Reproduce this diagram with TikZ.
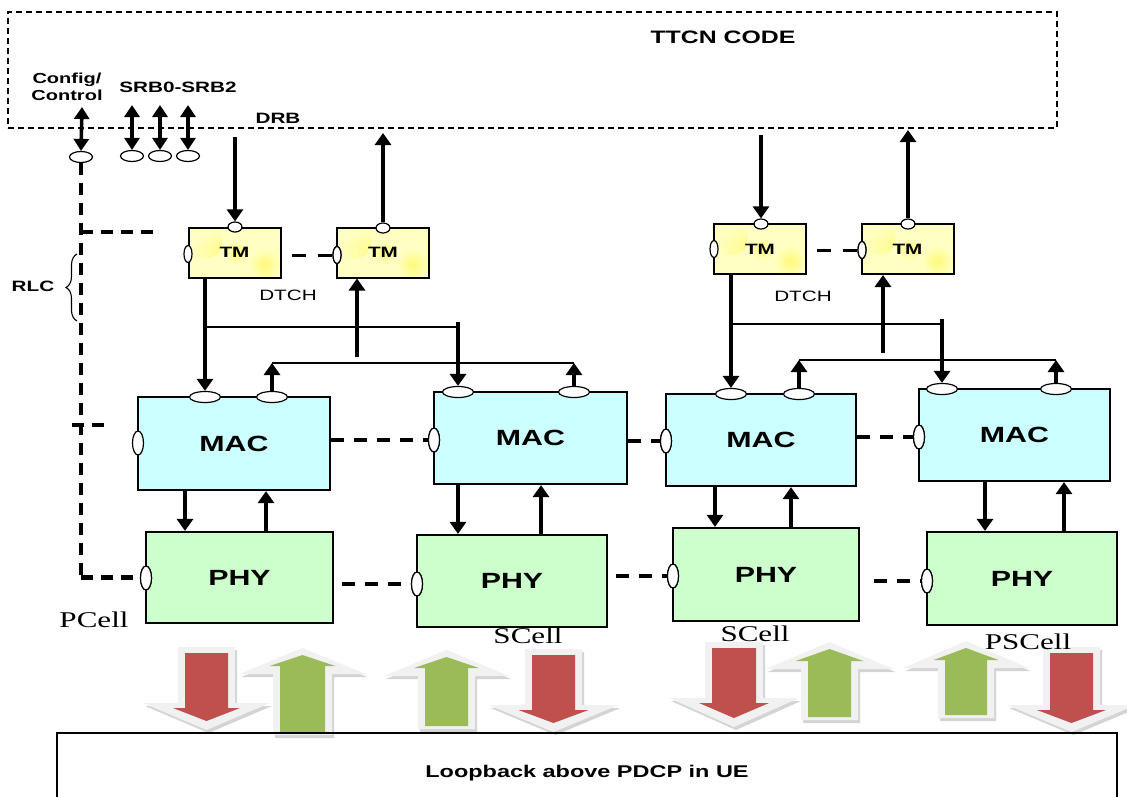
\documentclass[tikz,border=0pt]{standalone}
\usepackage{fontspec}
\setmainfont{Liberation Sans}
\newfontfamily\hsans{Liberation Sans}[FakeStretch=1.38]
\newfontfamily\hserif{Liberation Serif}[FakeStretch=1.38]
\usetikzlibrary{arrows.meta,decorations.pathreplacing,shapes.geometric}
\definecolor{tmfill}{RGB}{255,255,196}
\definecolor{tmspot}{RGB}{255,250,120}
\definecolor{macfill}{RGB}{204,255,255}
\definecolor{phyfill}{RGB}{204,255,204}
\definecolor{redarr}{RGB}{192,80,77}
\definecolor{greenarr}{RGB}{155,187,89}
\definecolor{glowc}{RGB}{241,241,241}
\definecolor{shadowc}{RGB}{170,170,170}
\newcommand{\blockdown}[6]{%
  \path[fill=shadowc, opacity=.5, shift={(2,3)}] (#1-#5-7,#2-6) -- (#1+#5+7,#2-6) -- (#1+#5+7,#3-5) -- (#1+#6+30,#3-5) -- (#1,#4+9) -- (#1-#6-30,#3-5) -- (#1-#5-7,#3-5) -- cycle;
  \path[fill=glowc] (#1-#5-7,#2-6) -- (#1+#5+7,#2-6) -- (#1+#5+7,#3-5) -- (#1+#6+30,#3-5) -- (#1,#4+9) -- (#1-#6-30,#3-5) -- (#1-#5-7,#3-5) -- cycle;
  \path[fill=redarr] (#1-#5,#2) -- (#1+#5,#2) -- (#1+#5,#3) -- (#1+#6,#3) -- (#1,#4) -- (#1-#6,#3) -- (#1-#5,#3) -- cycle;
}
\newcommand{\blockup}[6]{%
  \path[fill=shadowc, opacity=.5, shift={(2,3)}] (#1-#5-7,#2+3) -- (#1+#5+7,#2+3) -- (#1+#5+7,#3+8) -- (#1+#6+30,#3+8) -- (#1,#4-7) -- (#1-#6-30,#3+8) -- (#1-#5-7,#3+8) -- cycle;
  \path[fill=glowc] (#1-#5-7,#2+3) -- (#1+#5+7,#2+3) -- (#1+#5+7,#3+8) -- (#1+#6+30,#3+8) -- (#1,#4-7) -- (#1-#6-30,#3+8) -- (#1-#5-7,#3+8) -- cycle;
  \path[fill=greenarr] (#1-#5,#2) -- (#1+#5,#2) -- (#1+#5,#3) -- (#1+#6,#3) -- (#1,#4) -- (#1-#6,#3) -- (#1-#5,#3) -- cycle;
}
\tikzset{
  box/.style={draw=black, line width=2.2pt, inner sep=0pt, font=\hsans\bfseries\fontsize{22}{24}\selectfont},
  tmbox/.style={box, line width=2pt, fill=tmfill, minimum width=92pt, minimum height=50pt,
    font=\hsans\bfseries\fontsize{15}{17}\selectfont,
    path picture={
      \shade[inner color=tmspot, outer color=tmfill] ([xshift=-28pt,yshift=10pt]path picture bounding box.center) circle (16pt);
      \shade[inner color=tmspot, outer color=tmfill] ([xshift=30pt,yshift=-12pt]path picture bounding box.center) circle (16pt);
      \shade[inner color=tmspot, outer color=tmfill] ([xshift=2pt,yshift=0pt]path picture bounding box.center) circle (12pt);
    }},
  macbox/.style={box, fill=macfill},
  phybox/.style={box, fill=phyfill},
  porth/.style={ellipse, draw=black, fill=white, line width=1.2pt, inner sep=0pt, minimum width=31pt, minimum height=11pt},
  portv/.style={ellipse, draw=black, fill=white, line width=1.2pt, inner sep=0pt, minimum width=11pt, minimum height=24pt},
  tmporth/.style={ellipse, draw=black, fill=white, line width=1.2pt, inner sep=0pt, minimum width=14pt, minimum height=10pt},
  tmportv/.style={ellipse, draw=black, fill=white, line width=1.2pt, inner sep=0pt, minimum width=8pt, minimum height=17pt},
  cfgport/.style={ellipse, draw=black, fill=white, line width=1.2pt, inner sep=0pt, minimum width=23pt, minimum height=11pt},
  arr/.style={line width=4pt, -{Triangle[width=16pt,length=12pt]}},
  darr/.style={line width=3.6pt, {Triangle[width=15pt,length=12pt]}-{Triangle[width=15pt,length=12pt]}},
  ln/.style={line width=2.8pt},
  dsh/.style={line width=3.6pt, dash pattern=on 13pt off 10pt},
  tdsh/.style={line width=3pt, dash pattern=on 14pt off 12pt},
  cdsh/.style={line width=4.5pt, dash pattern=on 12pt off 8pt},
  lbl/.style={font=\hsans\bfseries\fontsize{15}{17}\selectfont, inner sep=0pt},
  cell/.style={font=\hserif\fontsize{22.5}{24}\selectfont, inner sep=0pt}
}
\begin{document}
\begin{tikzpicture}[x=1pt,y=-1pt]
\useasboundingbox (0,0) rectangle (1127,796);
\fill[white] (0,0) rectangle (1127,796);

% TTCN box
\node[draw=black, line width=1.2pt, dash pattern=on 6pt off 4pt, minimum width=1049pt, minimum height=116pt, inner sep=0pt] (ttcn) at (532.5,70) {};
\node[font=\hsans\bfseries\fontsize{18}{20}\selectfont, inner sep=0pt] (ttcnlbl) at (723,37) {TTCN CODE};
\node[lbl, align=center, font=\hsans\bfseries\fontsize{14.5}{17}\selectfont] (cfglbl) at (67,87) {Config/\\Control};
\node[lbl] (srblbl) at (178,87) {SRB0-SRB2};
\node[lbl] (drblbl) at (278,118) {DRB};

% block arrows
\blockdown{206.5}{653}{708}{721}{21.5}{33.5}
\blockup{302.5}{732}{666}{655}{22.5}{33}
\blockup{446.5}{726}{668}{657}{21.5}{32.5}
\blockdown{553.5}{655}{710}{723}{21.5}{35}
\blockdown{734}{648}{703}{718}{22}{35}
\blockup{829.5}{717}{661}{649}{21.5}{34}
\blockup{966}{715}{660}{648}{21}{32.5}
\blockdown{1071.5}{653}{710}{723}{21.5}{34.5}

% loopback
\node[draw=black, line width=1.6pt, minimum width=1060pt, minimum height=80pt, inner sep=0pt,
  font=\hsans\bfseries\fontsize{17}{19}\selectfont] (loop) at (587,773) {Loopback above PDCP in UE};

% TM boxes
\node[tmbox] (tm1) at (234.5,252.5) {TM};
\node[tmbox] (tm2) at (383,252.5) {TM};
\node[tmbox] (tm3) at (760,249) {TM};
\node[tmbox] (tm4) at (907.5,249) {TM};

% MAC boxes
\node[macbox, minimum width=192pt, minimum height=93pt] (mac1) at (234,443.5) {MAC};
\node[macbox, minimum width=193pt, minimum height=92pt] (mac2) at (530.5,438) {MAC};
\node[macbox, minimum width=190pt, minimum height=92pt] (mac3) at (761,440) {MAC};
\node[macbox, minimum width=191pt, minimum height=92pt] (mac4) at (1014.5,435) {MAC};

% PHY boxes
\node[phybox, minimum width=187pt, minimum height=91pt] (phy1) at (239.5,577.5) {PHY};
\node[phybox, minimum width=190pt, minimum height=92pt] (phy2) at (512,581) {PHY};
\node[phybox, minimum width=186pt, minimum height=93pt] (phy3) at (766,574.5) {PHY};
\node[phybox, minimum width=190pt, minimum height=93pt] (phy4) at (1022,578.5) {PHY};

% labels
\node[font=\hsans\fontsize{15}{17}\selectfont, inner sep=0pt] (dtch1) at (288,295) {DTCH};
\node[font=\hsans\fontsize{15}{17}\selectfont, inner sep=0pt] (dtch2) at (803,296) {DTCH};
\node[lbl] (rlc) at (33,286) {RLC};
\node[cell] (pcell) at (94,620) {PCell};
\node[cell] (scell1) at (528,636) {SCell};
\node[cell] (scell2) at (755,634) {SCell};
\node[cell] (pscell) at (1028,642) {PSCell};

% helper coordinates
\coordinate (cfgtop) at (82,107);
\coordinate (srbtop) at (0,105);
\coordinate (drbtop) at (0,137);
\coordinate (upt1) at (0,133);
\coordinate (dnt2) at (0,135);
\coordinate (upt2) at (0,130);
\coordinate (h1) at (0,327);
\coordinate (h1t) at (0,322);
\coordinate (h2) at (0,363);
\coordinate (upL) at (357,357);
\coordinate (h3) at (0,324);
\coordinate (h3t) at (0,319);
\coordinate (h4) at (0,360);
\coordinate (upR) at (883,353);
\coordinate (rlcbr) at (157,232);
\coordinate (tickA) at (72,425);
\coordinate (tickB) at (110,425);
\coordinate (d1) at (185,0);
\coordinate (u1) at (266,0);
\coordinate (d2) at (458,0);
\coordinate (u2) at (541,0);
\coordinate (d3) at (715,0);
\coordinate (u3) at (791,0);
\coordinate (d4) at (985,0);
\coordinate (u4) at (1064,0);

% dashed control line
\node[cfgport] (cfg) at (81,157) {};
\draw[cdsh] (cfg.south) -- (cfg.south |- phy1.west) coordinate (cfgcorner);
\draw[cdsh] (cfgcorner) -- ([xshift=-5pt]phy1.west);
\draw[cdsh] (cfg.south |- rlcbr) -- (rlcbr);
\draw[cdsh] (tickA) -- (tickB);
\draw[line width=1.1pt, decorate, decoration={brace, amplitude=11pt}] (77,321) -- (77,254);

% ports
\node[cfgport] (s1) at (132,156) {};
\node[cfgport] (s2) at (160,156) {};
\node[cfgport] (s3) at (188,156) {};
\node[tmporth] (t1t) at (235,227) {};
\node[tmportv] (t1l) at (188,254) {};
\node[tmporth] (t2t) at (383,228) {};
\node[tmportv] (t2l) at (337,255) {};
\node[tmporth] (t3t) at (761,224) {};
\node[tmportv] (t3l) at (714,249) {};
\node[tmporth] (t4t) at (908,224) {};
\node[tmportv] (t4l) at (862,250) {};
\node[porth] (m1a) at (205,397) {};
\node[porth] (m1b) at (272,397) {};
\node[portv] (m1l) at (138,443) {};
\node[porth] (m2a) at (458,392) {};
\node[porth] (m2b) at (574,392) {};
\node[portv] (m2l) at (434,440) {};
\node[porth] (m3a) at (731,394) {};
\node[porth] (m3b) at (799,394) {};
\node[portv] (m3l) at (666,441) {};
\node[porth] (m4a) at (942,389) {};
\node[porth] (m4b) at (1056,389) {};
\node[portv] (m4l) at (919,437) {};
\node[portv] (p1l) at (146,578) {};
\node[portv] (p2l) at (417,584) {};
\node[portv] (p3l) at (673,576) {};
\node[portv] (p4l) at (927,581) {};

% TTCN arrows
\draw[darr] (cfgtop) -- (cfg.north);
\draw[darr] (srbtop -| s1) -- (s1.north);
\draw[darr] (srbtop -| s2) -- (s2.north);
\draw[darr] (srbtop -| s3) -- (s3.north);
\draw[arr] (drbtop -| t1t) -- (t1t.north);
\draw[arr] (t2t.north) -- (upt1 -| t2t);
\draw[arr] (dnt2 -| t3t) -- (t3t.north);
\draw[arr] (t4t.north) -- (upt2 -| t4t);

% TM dashed
\draw[tdsh] (t2l.west -| tm1.east) ++(10,0) -- (t2l.west);
\draw[tdsh] (t4l.west -| tm3.east) ++(10,0) -- (t4l.west);

% left group TM <-> MAC
\draw[arr] (tm1.south -| m1a) -- (m1a.north);
\draw[ln] (h1 -| m1a) -- (h1 -| m2a);
\draw[arr] (h1t -| m2a) -- (m2a.north);
\draw[arr] (m1b.north) -- (h2 -| m1b);
\draw[ln] (h2 -| m1b) -- (h2 -| m2b);
\draw[arr] (m2b.north) -- (h2 -| m2b);
\draw[arr] (upL) -- (tm2.south -| upL);

% right group TM <-> MAC
\draw[arr] (tm3.south -| m3a) -- (m3a.north);
\draw[ln] (h3 -| m3a) -- (h3 -| m4a);
\draw[arr] (h3t -| m4a) -- (m4a.north);
\draw[arr] (m3b.north) -- (h4 -| m3b);
\draw[ln] (h4 -| m3b) -- (h4 -| m4b);
\draw[arr] (m4b.north) -- (h4 -| m4b);
\draw[arr] (upR) -- (tm4.south -| upR);

% MAC <-> PHY
\draw[arr] (mac1.south -| d1) -- (phy1.north -| d1);
\draw[arr] (phy1.north -| u1) -- (mac1.south -| u1);
\draw[arr] (mac2.south -| d2) -- (phy2.north -| d2);
\draw[arr] (phy2.north -| u2) -- (mac2.south -| u2);
\draw[arr] (mac3.south -| d3) -- (phy3.north -| d3);
\draw[arr] (phy3.north -| u3) -- (mac3.south -| u3);
\draw[arr] (mac4.south -| d4) -- (phy4.north -| d4);
\draw[arr] (phy4.north -| u4) -- (mac4.south -| u4);

% MAC and PHY dashed links
\draw[dsh] (m2l.west -| mac1.east) -- (m2l.west);
\draw[dsh] (m3l.west -| mac2.east) -- (m3l.west);
\draw[dsh] (m4l.west -| mac3.east) -- (m4l.west);
\draw[dsh] (p2l.west -| phy1.east) ++(8,0) -- (p2l.west);
\draw[dsh] (p3l.west -| phy2.east) ++(8,0) -- (p3l.west);
\draw[dsh] (p4l.west -| phy3.east) ++(14,0) -- (p4l.west);

% redraw port nodes above lines
\node[portv] at (p1l) {};
\node[portv] at (p2l) {};
\node[portv] at (p3l) {};
\node[portv] at (p4l) {};
\node[portv] at (m2l) {};
\node[portv] at (m3l) {};
\node[portv] at (m4l) {};
\node[tmportv] at (t2l) {};
\node[tmportv] at (t4l) {};
\end{tikzpicture}
\end{document}
